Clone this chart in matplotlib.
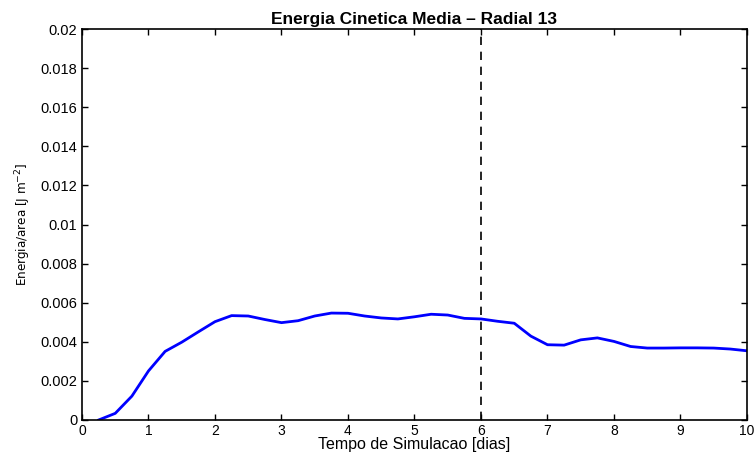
import matplotlib
matplotlib.use('Agg')
import matplotlib.pyplot as plt

plt.rcParams['font.family'] = ['Liberation Sans', 'DejaVu Sans']

# time (days) and mean kinetic energy per area
tempo = [0.25, 0.5, 0.75, 1.0, 1.25, 1.5, 1.75, 2.0, 2.25, 2.5, 2.75, 3.0,
         3.25, 3.5, 3.75, 4.0, 4.25, 4.5, 4.75, 5.0, 5.25, 5.5, 5.75, 6.0,
         6.25, 6.5, 6.75, 7.0, 7.25, 7.5, 7.75, 8.0, 8.25, 8.5, 8.75, 9.0,
         9.25, 9.5, 9.75, 10.0]
energia = [0.0, 0.00034, 0.00122, 0.00251, 0.00351, 0.00398, 0.00451, 0.00503,
           0.00534, 0.00532, 0.00514, 0.00498, 0.00508, 0.00532, 0.00547, 0.00546,
           0.00532, 0.00522, 0.00517, 0.00528, 0.00541, 0.00537, 0.00520, 0.00517,
           0.00505, 0.00495, 0.00429, 0.00385, 0.00383, 0.00410, 0.00420, 0.00402,
           0.00376, 0.00368, 0.00368, 0.00369, 0.00369, 0.00368, 0.00363, 0.00354]
dia_corte = 6
yticks = [0, 0.002, 0.004, 0.006, 0.008, 0.01, 0.012, 0.014, 0.016, 0.018, 0.02]
ytick_labels = ['0', '0.002', '0.004', '0.006', '0.008', '0.01', '0.012',
                '0.014', '0.016', '0.018', '0.02']

fig = plt.figure(figsize=(7.55, 4.54), dpi=100)
ax = fig.add_axes([0.1086, 0.0749, 0.8808, 0.8611])

ax.plot(tempo, energia, color='#0000ff', linewidth=2)
ax.axvline(dia_corte, color='black', linestyle=(0, (5, 4)), linewidth=1.2)

ax.set_xlim(0, 10)
ax.set_ylim(0, 0.02)
ax.set_xticks(range(0, 11))
ax.set_yticks(yticks)
ax.set_yticklabels(ytick_labels)
ax.tick_params(direction='in', top=True, right=True, labelsize=10.5, length=4, width=1)
ax.tick_params(axis='x', pad=3, labelsize=10)
for s in ax.spines.values():
    s.set_linewidth(1.2)

ax.set_title('Energia Cinetica Media \u2013 Radial 13', fontsize=12.5, fontweight='bold', pad=4)
ax.set_xlabel('Tempo de Simulacao [dias]', fontsize=11.5, labelpad=-1)
ax.set_ylabel('Energia/area [J m$^{-2}$]', fontsize=9.5,
              family=['DejaVu Sans'], fontstretch='condensed', labelpad=5)

fig.savefig('out.png', dpi=100)
